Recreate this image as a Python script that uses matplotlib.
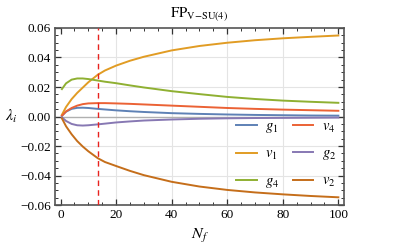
import matplotlib
matplotlib.use("Agg")
import matplotlib.pyplot as plt
from matplotlib.ticker import MultipleLocator

plt.rcParams['font.family'] = ['Liberation Serif', 'DejaVu Serif']
plt.rcParams['mathtext.fontset'] = 'stix'

Nf = [0.5, 2, 4, 6, 8, 10, 13.4, 16, 20, 25, 30, 40, 50, 60, 70, 80, 90, 100]
g1 = [0.0005, 0.0033, 0.0052, 0.0059, 0.0060, 0.0058, 0.0052, 0.0048, 0.0042, 0.0036,
      0.0031, 0.0023, 0.0018, 0.0014, 0.0011, 0.0009, 0.0007, 0.0006]
v1 = [0.0012, 0.0065, 0.0118, 0.0160, 0.0196, 0.0232, 0.0283, 0.0312, 0.0345, 0.0378,
      0.0405, 0.0448, 0.0478, 0.0500, 0.0517, 0.0530, 0.0540, 0.0549]
g4 = [0.0186, 0.0225, 0.0250, 0.0258, 0.0258, 0.0254, 0.0244, 0.0236, 0.0226, 0.0211,
      0.0197, 0.0172, 0.0152, 0.0133, 0.0119, 0.0108, 0.0100, 0.0093]
v4 = [0.0005, 0.0035, 0.0058, 0.0074, 0.0084, 0.0089, 0.0091, 0.0091, 0.0089, 0.0086,
      0.0082, 0.0074, 0.0066, 0.0058, 0.0052, 0.0047, 0.0043, 0.0039]
g2 = [-0.0005, -0.0030, -0.0050, -0.0059, -0.0061, -0.0059, -0.0053, -0.0048, -0.0040, -0.0033,
      -0.0027, -0.0020, -0.0015, -0.0012, -0.0010, -0.0009, -0.0008, -0.0007]
v2 = [-0.0012, -0.0066, -0.0120, -0.0166, -0.0203, -0.0235, -0.0282, -0.0308, -0.0335, -0.0368,
      -0.0397, -0.0442, -0.0474, -0.0497, -0.0514, -0.0527, -0.0538, -0.0547]
Nf_crit = 13.4

series = [
    (r'$g_1$', g1, '#5E81B5'),
    (r'$v_1$', v1, '#E19C24'),
    (r'$g_4$', g4, '#8FB032'),
    (r'$v_4$', v4, '#EB6235'),
    (r'$g_2$', g2, '#8778B3'),
    (r'$v_2$', v2, '#C56E1A'),
]

fig = plt.figure(figsize=(4.07, 2.52), dpi=100)
ax = fig.add_axes([0.135, 0.186, 0.710, 0.703])

ax.set_xlim(-2, 102)
ax.set_ylim(-0.06, 0.06)

for x in [20, 40, 60, 80]:
    ax.axvline(x, color='#e4e4e4', lw=0.8, zorder=0)
for y in [-0.04, -0.02, 0.02, 0.04]:
    ax.axhline(y, color='#e4e4e4', lw=0.8, zorder=0)
ax.axhline(0, color='#b0b0b0', lw=1.0, zorder=1)

handles = []
for label, vals, col in series:
    h, = ax.plot(Nf, vals, color=col, lw=1.4, label=label, zorder=3)
    handles.append(h)

ax.axvline(Nf_crit, color='#E8221E', lw=1.0, ls=(0, (4, 3)), zorder=4)

ax.xaxis.set_major_locator(MultipleLocator(20))
ax.xaxis.set_minor_locator(MultipleLocator(5))
ax.yaxis.set_major_locator(MultipleLocator(0.02))
ax.yaxis.set_minor_locator(MultipleLocator(0.005))
ax.set_yticks([-0.06, -0.04, -0.02, 0.0, 0.02, 0.04, 0.06])
ax.set_yticklabels(['\u22120.06', '\u22120.04', '\u22120.02', '0.00', '0.02', '0.04', '0.06'])
ax.tick_params(which='both', direction='in', top=True, right=True, labelsize=9.5, pad=3)
ax.tick_params(which='major', length=4, width=0.9, color='#333333')
ax.tick_params(which='minor', length=2, width=0.7, color='#333333')
for s in ax.spines.values():
    s.set_color('#555555')
    s.set_linewidth(1.2)

ax.set_title(r'$\mathrm{FP}_{\mathrm{V\!-\!SU(4)}}$', fontsize=10.5, pad=8)
ax.set_xlabel(r'$N_f$', fontsize=11.5, labelpad=4)
ax.set_ylabel(r'$\lambda_i$', fontsize=11.5, rotation=0, labelpad=6, va='center')

ax.legend(handles=handles, ncol=2, loc='center', bbox_to_anchor=(0.80, 0.283),
          frameon=False, fontsize=10.5, handlelength=1.4, handletextpad=0.6,
          columnspacing=0.9, labelspacing=0.85)

fig.savefig('out.png', dpi=100)
